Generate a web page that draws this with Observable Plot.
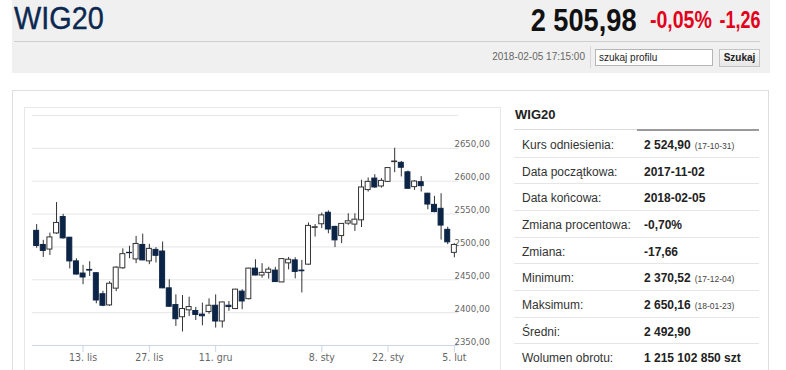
<!DOCTYPE html>
<html>
<head>
<meta charset="utf-8">
<script src="https://cdn.jsdelivr.net/npm/d3@7"></script>
<script src="https://cdn.jsdelivr.net/npm/@observablehq/plot@0.6"></script>
<style>
  html, body { margin: 0; padding: 0; background: #fff; }
  body { width: 786px; height: 370px; position: relative; overflow: hidden; font-family: "Liberation Sans", Arial, sans-serif; }
  .abs { position: absolute; }
  #hdr { left: 12px; top: 0; width: 758px; height: 73px; background: #f0f0f0; }
  #title { left: 14px; top: 1px; font: 31px "Liberation Sans Narrow", "Liberation Sans", sans-serif; color: #0b2850; transform: scaleX(0.93); transform-origin: left top; -webkit-text-stroke: 0.4px #0b2850; }
  .q { top: 2px; white-space: nowrap; font-family: "Liberation Sans", Arial, sans-serif; font-weight: bold; transform-origin: right top; }
  #qpx { right: 149px; font-size: 32px; color: #111; transform: scaleX(0.85); }
  #qpc { right: 74px; top: 7px; font-size: 23px; color: #e3001b; transform: scaleX(0.85); }
  #qch { right: 26px; top: 7px; font-size: 23px; color: #e3001b; transform: scaleX(0.78); }
  #hline { left: 14px; top: 41px; width: 746px; height: 1px; background: #cfcfcf; }
  #stamp { left: 470px; top: 51px; width: 115px; text-align: right; font: 10px "Liberation Sans Narrow", sans-serif; color: #666; }
  #sep { left: 590px; top: 46px; width: 1px; height: 22px; background: #d6d6d6; }
  #inp { left: 595px; top: 49px; width: 118px; height: 17px; background: #fff; border: 1px solid #b5b5b5; box-sizing: border-box; font: 10px "Liberation Sans Narrow", sans-serif; color: #222; padding: 2px 3px; }
  #btn { left: 719px; top: 49px; width: 41px; height: 18px; background: linear-gradient(#fafafa, #e6e6e6); border: 1px solid #c3c3c3; box-sizing: border-box; font: bold 10px "Liberation Sans Narrow", sans-serif; color: #222; text-align: center; line-height: 16px; }
  #panel { left: 12px; top: 90px; width: 757px; height: 300px; border: 1px solid #dedede; box-sizing: border-box; background: #fff; }
  #chartbox { left: 24px; top: 107px; width: 477px; height: 280px; border: 1px solid #e8e8e8; box-sizing: border-box; }
  #chart { left: 24px; top: 107px; }
  #chart svg { font-family: "Liberation Sans Narrow", "DejaVu Sans Condensed", sans-serif; }
  #ttl { left: 515px; top: 107px; font: bold 13px "Liberation Sans", Arial, sans-serif; color: #222; }
  #tl1 { left: 514px; top: 129px; width: 245px; height: 1px; background: #dcdcdc; }
  #tl2 { left: 637px; top: 129px; width: 122px; height: 2px; background: #9a9a9a; }
  .row { position: absolute; left: 514px; width: 245px; height: 26.65px; border-bottom: 1px solid #e6e6e6; box-sizing: border-box; font-size: 12px; color: #333; }
  .row .l { position: absolute; left: 8px; top: 7px; }
  .row .v { position: absolute; left: 130px; top: 7px; font-weight: bold; color: #222; white-space: nowrap; }
  .row .v small { font-weight: normal; font-size: 8.5px; color: #444; margin-left: 4px; }
</style>
</head>
<body>
<div id="hdr" class="abs"></div>
<div id="title" class="abs">WIG20</div>
<div id="qpx" class="abs q">2 505,98</div>
<div id="qpc" class="abs q">-0,05%</div>
<div id="qch" class="abs q">-1,26</div>
<div id="hline" class="abs"></div>
<div id="stamp" class="abs">2018-02-05 17:15:00</div>
<div id="sep" class="abs"></div>
<div id="inp" class="abs">szukaj profilu</div>
<div id="btn" class="abs">Szukaj</div>
<div id="panel" class="abs"></div>
<div id="chartbox" class="abs"></div>
<div id="chart" class="abs"></div>
<div id="ttl" class="abs">WIG20</div>
<div id="tl1" class="abs"></div>
<div id="tl2" class="abs"></div>
<div id="table"></div>
<script>
// ---- data ----
const dates = [
  "2017-11-02","2017-11-03","2017-11-06","2017-11-07","2017-11-08","2017-11-09","2017-11-10",
  "2017-11-13","2017-11-14","2017-11-15","2017-11-16","2017-11-17","2017-11-20","2017-11-21",
  "2017-11-22","2017-11-23","2017-11-24","2017-11-27","2017-11-28","2017-11-29","2017-11-30",
  "2017-12-01","2017-12-04","2017-12-05","2017-12-06","2017-12-07","2017-12-08","2017-12-11",
  "2017-12-12","2017-12-13","2017-12-14","2017-12-15","2017-12-18","2017-12-19","2017-12-20",
  "2017-12-21","2017-12-22","2017-12-27","2017-12-28",
  "2018-01-02","2018-01-03","2018-01-04","2018-01-05","2018-01-08","2018-01-09","2018-01-10",
  "2018-01-11","2018-01-12","2018-01-15","2018-01-16","2018-01-17","2018-01-18","2018-01-19",
  "2018-01-22","2018-01-23","2018-01-24","2018-01-25","2018-01-26","2018-01-29","2018-01-30",
  "2018-01-31","2018-02-01","2018-02-02","2018-02-05"
];
const open = [
  2524.5,2503,2496,2520.5,2545.5,2514,2478,2459.5,2465,2460,2428,2411,2436.5,2467.5,
  2491,2481,2503,2478,2495.5,2493,2437,2411.5,2393,2403.5,2402.5,2397,2401,2410.5,
  2386.5,2410.5,2405.5,2432,2420.5,2467,2456.5,2460.5,2464,2446,2475,
  2479.5,2464,2473,2529,2534.5,2552,2530.5,2516.5,2535.5,2534,2540.5,2586.5,2604,2592,
  2599,2629,2628,2613.5,2591,2598.5,2581,2564,2558,2526,2491
];
const high = [
  2534,2510,2521,2567.5,2549.5,2514.5,2482,2472,2477.5,2460.5,2432.5,2447,2470,2497,
  2501,2516,2519.5,2504,2499,2507.5,2450,2427,2426,2423.5,2408,2414.5,2421,2427,
  2416,2417,2435.5,2435,2467.5,2480.5,2474.5,2469,2469,2482,2484,
  2483.5,2479.5,2536.5,2534,2551.5,2555,2531.5,2535.5,2550.5,2550.5,2601.5,2605,2610,2604,
  2620.5,2650.16,2630,2615.5,2601,2607,2581.5,2577,2581,2530,2505
];
const low = [
  2498,2484,2487,2519,2512,2466.5,2457,2442.5,2455,2413.5,2409,2409.5,2432,2466,
  2482,2474.5,2479,2473,2475.5,2436.5,2408,2379,2370.52,2394,2388,2380,2397.5,2376.5,
  2376.5,2402,2404.5,2404.5,2419.5,2456,2452.5,2451,2446,2445.5,2465,
  2451.5,2430,2472,2515,2528,2520,2499,2505,2533,2523.5,2529.5,2583.5,2589,2589.5,
  2598,2613,2606.5,2587.5,2586,2583.5,2556.5,2552,2510.5,2503.5,2483.5
];
const close = [
  2501.5,2494,2514.5,2536.5,2513,2478,2458,2453.5,2464,2418.5,2410.5,2444,2468.5,2489,
  2490.5,2504.5,2479.5,2497,2486.5,2437,2409,2390,2405.5,2408.5,2396.5,2394.5,2410.5,2386.5,
  2415.5,2408.5,2435,2417,2467,2456.5,2460.5,2465.5,2446.5,2481.5,2480.5,
  2462,2463,2532,2530,2548,2526.5,2510,2535,2539,2541.5,2590.5,2599,2590.5,2600.5,
  2620,2630,2620.5,2588.5,2599.5,2592.5,2564.5,2553,2532.5,2507,2503
];
const xTickDates = ["2017-11-13","2017-11-27","2017-12-11","2018-01-08","2018-01-22","2018-02-05"];
const xTickLabels = ["13. lis","27. lis","11. gru","8. sty","22. sty","5. lut"];
const yGrid = [2350,2400,2450,2500,2550,2600,2650,2700];
const yTickValues = [2350,2400,2450,2500,2550,2600,2650];

const tableLabels = ["Kurs odniesienia:","Data początkowa:","Data końcowa:","Zmiana procentowa:","Zmiana:","Minimum:","Maksimum:","Średni:","Wolumen obrotu:"];
const tableValues = ["2 524,90","2017-11-02","2018-02-05","-0,70%","-17,66","2 370,52","2 650,16","2 492,90","1 215 102 850 szt"];
const tableNotes = ["(17-10-31)","","","","","(17-12-04)","(18-01-23)","",""];

// ---- build ----
const data = dates.map((d, i) => ({date: d, open: open[i], high: high[i], low: low[i], close: close[i]}));
const labelOf = new Map(xTickDates.map((d, i) => [d, xTickLabels[i]]));
const fmt = v => d3.format(".2f")(v).replace(".", ",");
const DOWN = "#0c2446";

const chart = Plot.plot({
  width: 477, height: 263,
  marginLeft: 8, marginRight: 43, marginTop: 8, marginBottom: 25,
  style: {background: "transparent", fontSize: "10px"},
  x: {type: "band", domain: dates, padding: 0.25},
  y: {domain: [2350, 2700]},
  marks: [
    Plot.gridY(yGrid, {stroke: "#e6e6e6", strokeOpacity: 1}),
    Plot.axisY(yTickValues, {anchor: "right", tickSize: 0, tickPadding: 0, dx: -4, dy: -4, textAnchor: "start", tickFormat: fmt, fill: "#666", fontSize: 9.5, label: null}),
    Plot.ruleY([2350], {stroke: "#ccd6eb"}),
    Plot.axisX(xTickDates, {tickSize: 7, tickPadding: 1, stroke: "#ccd6eb", strokeOpacity: 1, fill: "#666", tickFormat: d => labelOf.get(d), fontSize: 10.5, label: null}),
    Plot.ruleX(data, {x: "date", y1: "low", y2: "high", stroke: "#333", strokeWidth: 1}),
    Plot.barY(data, {x: "date", y1: "open", y2: "close", fill: d => d.close >= d.open ? "#ffffff" : DOWN, stroke: d => d.close >= d.open ? "#333" : DOWN, strokeWidth: 1})
  ]
});
document.getElementById("chart").appendChild(chart);

const table = document.getElementById("table");
tableLabels.forEach((lab, i) => {
  const row = document.createElement("div");
  row.className = "row";
  row.style.top = (131 + 26.65 * i) + "px";
  const l = document.createElement("span"); l.className = "l"; l.textContent = lab;
  const v = document.createElement("span"); v.className = "v"; v.textContent = tableValues[i];
  if (tableNotes[i]) { const s = document.createElement("small"); s.textContent = tableNotes[i]; v.appendChild(s); }
  row.appendChild(l); row.appendChild(v);
  table.appendChild(row);
});
</script>
</body>
</html>
